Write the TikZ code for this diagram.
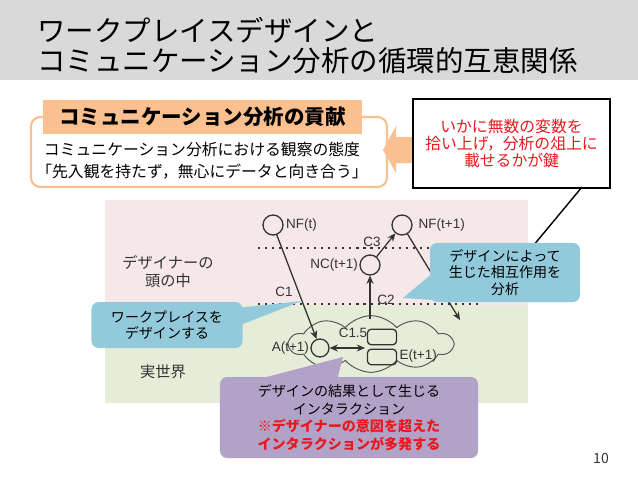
\documentclass[tikz,border=0pt]{standalone}
\usepackage{fontspec}
\setmainfont{Noto Sans CJK JP}
\newfontfamily\labfont{Liberation Sans}
\usepackage{tikz}
\usetikzlibrary{shapes.symbols, arrows.meta, positioning}
\definecolor{titlegray}{HTML}{D9D9D9}
\definecolor{peach}{HTML}{FAC090}
\definecolor{headpink}{HTML}{F6E8E8}
\definecolor{worldgreen}{HTML}{E5EDD9}
\definecolor{noteblue}{HTML}{92CADB}
\definecolor{notepurple}{HTML}{B3A2C7}
\definecolor{keyred}{HTML}{E8191E}
\definecolor{ink}{HTML}{333333}
\tikzstyle{state} = [circle, draw=ink, line width=1.1pt, minimum size=0.6cm, inner sep=0pt]
\tikzstyle{envbox} = [rectangle, rounded corners=3pt, draw=ink, line width=1.1pt, minimum width=0.87cm, minimum height=0.46cm, inner sep=0pt]
\tikzstyle{lbl} = [text=ink, font=\labfont\fontsize{11.5}{13}\selectfont, inner sep=1pt]
\tikzstyle{arrow} = [line width=1.1pt, draw=ink, -{Stealth[length=7pt, width=6pt]}]
\tikzstyle{twoway} = [line width=1.1pt, draw=ink, {Stealth[length=7pt, width=6pt]}-{Stealth[length=7pt, width=6pt]}]
\tikzstyle{dotline} = [line width=1.8pt, draw=ink, dash pattern=on 1.8pt off 4.2pt]
\tikzstyle{notebox} = [rectangle, rounded corners=6pt, align=center, text=black, font=\fontsize{12}{13.5}\selectfont]

\begin{document}
\begin{tikzpicture}[x=0.03cm, y=-0.03cm]
\useasboundingbox (0,0) rectangle (638,479);
% title bar
\fill [titlegray] (0,0) rectangle (638,80);
\node (title) [anchor=west, align=left, inner sep=0pt, font=\fontsize{24.3}{25.5}\selectfont] at (37,46) {ワークプレイスデザインと\\コミュニケーション分析の循環的互恵関係};

% contribution of communication analysis
\node (contrib) [draw=peach, line width=1.8pt, rounded corners=8pt, minimum width=10.68cm, minimum height=2.1cm] at (209,152) {};
\node (contribhead) [fill=peach, minimum width=9.57cm, minimum height=1.02cm, font=\bfseries\fontsize{17.5}{20}\selectfont] at (202.5,117) {コミュニケーション分析の貢献};
\node (contribtext) [align=center, font=\fontsize{13.5}{18.7}\selectfont] at (202,161) {コミュニケーション分析における観察の態度\\「先入観を持たず，無心にデータと向き合う」};
\fill [peach] (383,150) -- (396,126) -- (396,137) -- (416,137) -- (416,163) -- (396,163) -- (396,173) -- cycle;
\node (keybox) [draw=black, line width=1.2pt, fill=white, minimum width=5.91cm, minimum height=2.67cm, align=center, text=keyred, font=\fontsize{13.5}{14.9}\selectfont] at (511.5,143.5) {いかに無数の変数を\\拾い上げ，分析の俎上に\\載せるかが鍵};

% head and real world
\fill [headpink] (105,200) rectangle (528,305);
\fill [worldgreen] (105,305) rectangle (528,403);
\node (headlab) [align=center, text=ink, font=\fontsize{13}{15.3}\selectfont] at (168,272) {デザイナーの\\頭の中};
\node (worldlab) [text=ink, font=\fontsize{13}{15}\selectfont] at (163,372) {実世界};
\draw [dotline] (258,248) -- (442,248);
\draw [dotline] (258,304) -- (482,304);

% model
\node (cloud) [cloud, draw=ink!85, line width=0.8pt, cloud puffs=10, cloud puff arc=100, aspect=3, minimum width=4.9cm, minimum height=1.7cm] at (371,344) {};
\node (nft) [state] at (273,225) {};
\node (nft1) [state] at (402,225) {};
\node (nct1) [state] at (370,265) {};
\node (at1) [state, minimum size=0.54cm] at (320,348) {};
\node (et1a) [envbox] at (382,337) {};
\node (et1b) [envbox] at (382,357) {};
\node (nftlab) [lbl, right=1pt of nft] {NF(t)};
\node (nft1lab) [lbl, right=4pt of nft1] {NF(t+1)};
\node (nct1lab) [lbl, left=0pt of nct1] {NC(t+1)};
\node (at1lab) [lbl, left=0pt of at1] {A(t+1)};
\node (et1lab) [lbl, right=1pt of et1b, yshift=1pt] {E(t+1)};
\node (c1) [lbl] at (284,292) {C1};
\node (c2) [lbl] at (386,300) {C2};
\node (c3) [lbl] at (372,242) {C3};
\node (c15) [lbl] at (353,333) {C1.5};
\coordinate (c2foot) at (370,319);
\coordinate (outtip) at (460,320);
\coordinate (c15tip) at (365,348);
\draw [arrow] (nft) -- (at1);
\draw [arrow] (c2foot) -- (nct1);
\draw [arrow] (nct1) -- (nft1);
\draw [arrow] (nft1) -- (outtip);
\draw [twoway] (at1) -- (c15tip);

% notes
\coordinate (tailtop) at (582,187);
\coordinate (tailend) at (533,246);
\draw [line width=1.2pt] (tailtop) -- (tailend);
\fill [noteblue] (218,310) -- (302,301) -- (243,324) -- cycle;
\fill [noteblue] (434,272) -- (403,298) -- (448,301) -- cycle;
\fill [notepurple] (255,380) -- (343,357) -- (337,380) -- cycle;
\node (designnote) [notebox, fill=noteblue, minimum width=4.53cm, minimum height=1.38cm] at (167,325) {ワークプレイスを\\デザインする};
\node (analysenote) [notebox, fill=noteblue, minimum width=4.5cm, minimum height=1.77cm, font=\fontsize{12}{14}\selectfont] at (505,272.5) {デザインによって\\生じた相互作用を\\分析};
\node (resultnote) [notebox, fill=notepurple, minimum width=7.74cm, minimum height=2.43cm, font=\fontsize{12}{15}\selectfont] at (349,417.5) {デザインの結果として生じる\\インタラクション\\\textcolor{keyred}{\bfseries ※デザイナーの意図を超えた}\\\textcolor{keyred}{\bfseries インタラクションが多発する}};

\node (pagenum) [text=ink, font=\fontsize{12}{14}\selectfont] at (601,458) {10};
\end{tikzpicture}
\end{document}
